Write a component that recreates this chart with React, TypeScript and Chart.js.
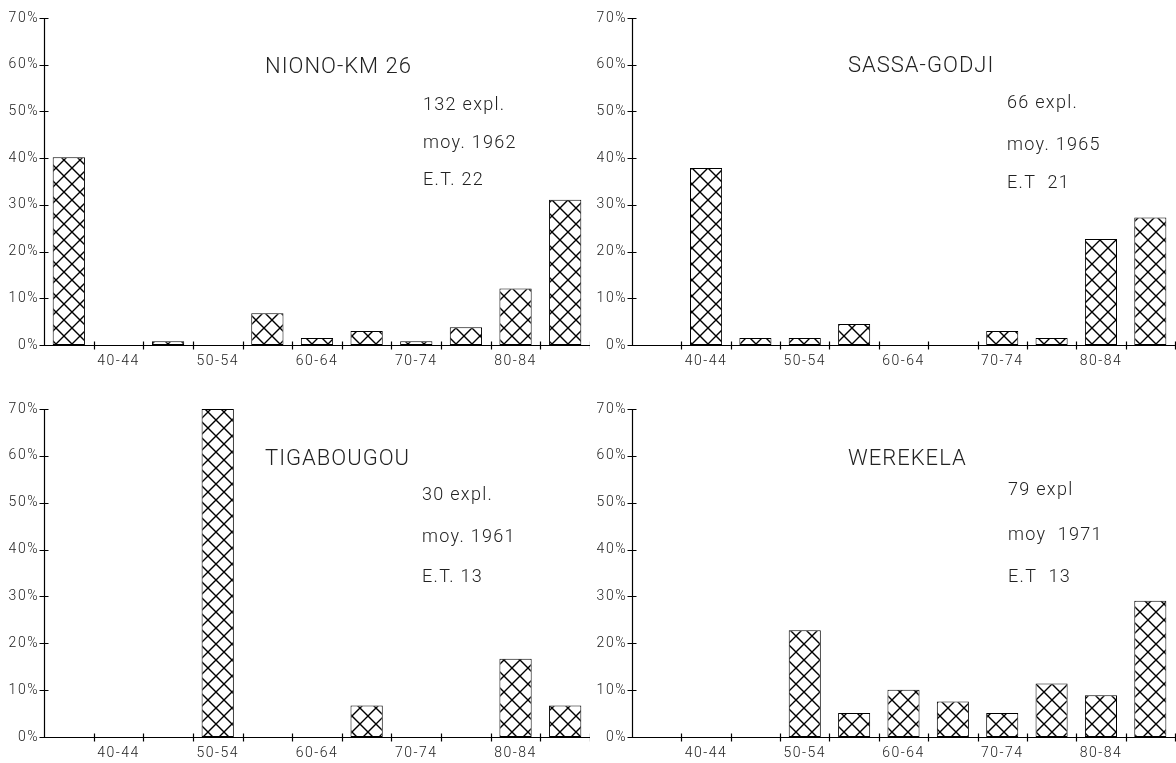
import React, { useEffect, useRef } from 'react';
import { Chart, registerables } from 'chart.js';

Chart.register(...registerables);

// ---------- data ----------
const categories = ['35-39', '40-44', '45-49', '50-54', '55-59', '60-64', '65-69', '70-74', '75-79', '80-84', '85-89'];
const shownXLabels = ['40-44', '50-54', '60-64', '70-74', '80-84'];
const yMin = 0;
const yMax = 70;
const yStep = 10;

const nionoValues = [40.2, 0, 0.8, 0, 6.8, 1.5, 3.0, 0.8, 3.8, 12.1, 31.1];
const sassaValues = [0, 37.9, 1.5, 1.5, 4.5, 0, 0, 3.0, 1.5, 22.7, 27.3];
const tigaValues = [0, 0, 0, 70, 0, 0, 6.7, 0, 0, 16.7, 6.7];
const wereValues = [0, 0, 0, 22.8, 5.1, 10.1, 7.6, 5.1, 11.4, 8.9, 29.1];

const panelTitles = ['NIONO-KM 26', 'SASSA-GODJI', 'TIGABOUGOU', 'WEREKELA'];
const nionoStats = ['132 expl.', 'moy. 1962', 'E.T. 22'];
const sassaStats = ['66 expl.', 'moy. 1965', 'E.T  21'];
const tigaStats = ['30 expl.', 'moy. 1961', 'E.T. 13'];
const wereStats = ['79 expl', 'moy  1971', 'E.T  13'];

// ---------- styling ----------
const FONT = 'Roboto, "DejaVu Sans", sans-serif';
const TEXT_COLOR = '#222';

function makeHatch(): CanvasPattern | string {
  const c = document.createElement('canvas');
  c.width = 16;
  c.height = 16;
  const g = c.getContext('2d');
  if (!g) return '#fff';
  g.fillStyle = '#fff';
  g.fillRect(0, 0, 16, 16);
  g.strokeStyle = '#000';
  g.lineWidth = 1.4;
  g.beginPath();
  g.moveTo(-2, -2);
  g.lineTo(18, 18);
  g.moveTo(18, -2);
  g.lineTo(-2, 18);
  g.stroke();
  return g.createPattern(c, 'repeat') || '#fff';
}

const spacingPlugin = {
  id: 'letterSpacing',
  beforeLayout(chart: any) {
    chart.ctx.letterSpacing = '1.5px';
  },
  beforeDraw(chart: any) {
    chart.ctx.letterSpacing = '1.5px';
  },
};

const axesPlugin = {
  id: 'plotAxes',
  afterDatasetsDraw(chart: any) {
    const { ctx, chartArea, scales } = chart;
    const x = scales.x;
    const y = scales.y;
    const L = Math.round(chartArea.left) + 0.5;
    const B = Math.round(chartArea.bottom) + 0.5;
    ctx.save();
    ctx.strokeStyle = '#000';
    ctx.lineWidth = 1.2;
    ctx.beginPath();
    ctx.moveTo(L, B);
    ctx.lineTo(chartArea.right, B);
    ctx.moveTo(L, B);
    ctx.lineTo(L, y.getPixelForValue(y.max));
    y.ticks.forEach((t: any) => {
      const py = Math.round(y.getPixelForValue(t.value)) + 0.5;
      ctx.moveTo(L - 5, py);
      ctx.lineTo(L + 4, py);
    });
    const w = x.getPixelForValue(1) - x.getPixelForValue(0);
    for (let i = 1; i <= categories.length; i++) {
      const px = Math.round(x.getPixelForValue(i - 1) + w / 2) + 0.5;
      ctx.moveTo(px, B - 4);
      ctx.lineTo(px, B + 4);
    }
    ctx.stroke();
    ctx.restore();
  },
};

const textPlugin = {
  id: 'panelText',
  afterDraw(chart: any, _args: any, opts: any) {
    const { ctx, chartArea } = chart;
    ctx.save();
    ctx.fillStyle = TEXT_COLOR;
    ctx.textBaseline = 'alphabetic';
    ctx.textAlign = 'left';
    ctx.font = `300 22px ${FONT}`;
    ctx.letterSpacing = '1px';
    ctx.fillText(opts.title, chartArea.left + opts.titleDx, chartArea.top + opts.titleDy);
    ctx.font = `300 18px ${FONT}`;
    ctx.letterSpacing = '1.3px';
    opts.stats.forEach((s: string, i: number) => {
      ctx.fillText(s, chartArea.left + opts.statsDx, chartArea.top + opts.statsDy[i]);
    });
    ctx.restore();
  },
};

type PanelProps = {
  values: number[];
  title: string;
  stats: string[];
  left: number;
  top: number;
  width: number;
  height: number;
  padTop: number;
  padRight: number;
  axisH: number;
  titleDx: number;
  titleDy: number;
  statsDx: number;
  statsDy: number[];
};

function Panel(p: PanelProps) {
  const ref = useRef<HTMLCanvasElement>(null);
  useEffect(() => {
    if (!ref.current) return;
    const tickFont = { family: FONT, size: 14, weight: 300 as any };
    const chart = new Chart(ref.current, {
      type: 'bar',
      data: {
        labels: categories,
        datasets: [
          {
            data: p.values,
            backgroundColor: makeHatch() as any,
            borderColor: '#000',
            borderWidth: 1,
            borderSkipped: false,
            barPercentage: 0.65,
            categoryPercentage: 1,
          },
        ],
      },
      options: {
        animation: false,
        responsive: false,
        devicePixelRatio: 1,
        layout: { padding: { top: p.padTop, right: p.padRight, left: 0, bottom: 0 } },
        plugins: {
          legend: { display: false },
          tooltip: { enabled: false },
          panelText: {
            title: p.title,
            stats: p.stats,
            titleDx: p.titleDx,
            titleDy: p.titleDy,
            statsDx: p.statsDx,
            statsDy: p.statsDy,
          },
        } as any,
        scales: {
          x: {
            grid: { display: false, drawTicks: false },
            border: { display: false },
            ticks: {
              autoSkip: false,
              maxRotation: 0,
              minRotation: 0,
              padding: 8,
              color: TEXT_COLOR,
              font: tickFont,
              callback: (_v: any, i: number) => (shownXLabels.includes(categories[i]) ? categories[i] : ''),
            },
            afterFit: (s: any) => {
              s.height = p.axisH;
            },
          },
          y: {
            min: yMin,
            max: yMax,
            grid: { display: false, drawTicks: false },
            border: { display: false },
            ticks: {
              stepSize: yStep,
              padding: 5,
              color: TEXT_COLOR,
              font: tickFont,
              callback: (v: any) => `${v}%`,
            },
            afterFit: (s: any) => {
              s.width = 44;
            },
          },
        } as any,
      },
      plugins: [spacingPlugin, axesPlugin, textPlugin],
    });
    return () => chart.destroy();
  }, []);
  return (
    <canvas
      ref={ref}
      width={p.width}
      height={p.height}
      style={{ position: 'absolute', left: p.left, top: p.top, width: p.width, height: p.height }}
    />
  );
}

export default function App() {
  return (
    <div style={{ position: 'fixed', left: 0, top: 0, width: 1176, height: 763, background: '#fff', overflow: 'hidden' }}>
      <Panel values={nionoValues} title={panelTitles[0]} stats={nionoStats}
        left={0} top={0} width={590} height={380} padTop={18} padRight={0} axisH={35}
        titleDx={221} titleDy={55} statsDx={379} statsDy={[92, 130, 167]} />
      <Panel values={sassaValues} title={panelTitles[1]} stats={sassaStats}
        left={588} top={0} width={588} height={380} padTop={18} padRight={1} axisH={35}
        titleDx={216} titleDy={54} statsDx={375} statsDy={[90, 132, 170]} />
      <Panel values={tigaValues} title={panelTitles[2]} stats={tigaStats}
        left={0} top={380} width={590} height={383} padTop={29} padRight={0} axisH={26}
        titleDx={221} titleDy={56} statsDx={378} statsDy={[91, 133, 173]} />
      <Panel values={wereValues} title={panelTitles[3]} stats={wereStats}
        left={588} top={380} width={588} height={383} padTop={29} padRight={1} axisH={26}
        titleDx={216} titleDy={56} statsDx={376} statsDy={[86, 131, 173]} />
    </div>
  );
}
